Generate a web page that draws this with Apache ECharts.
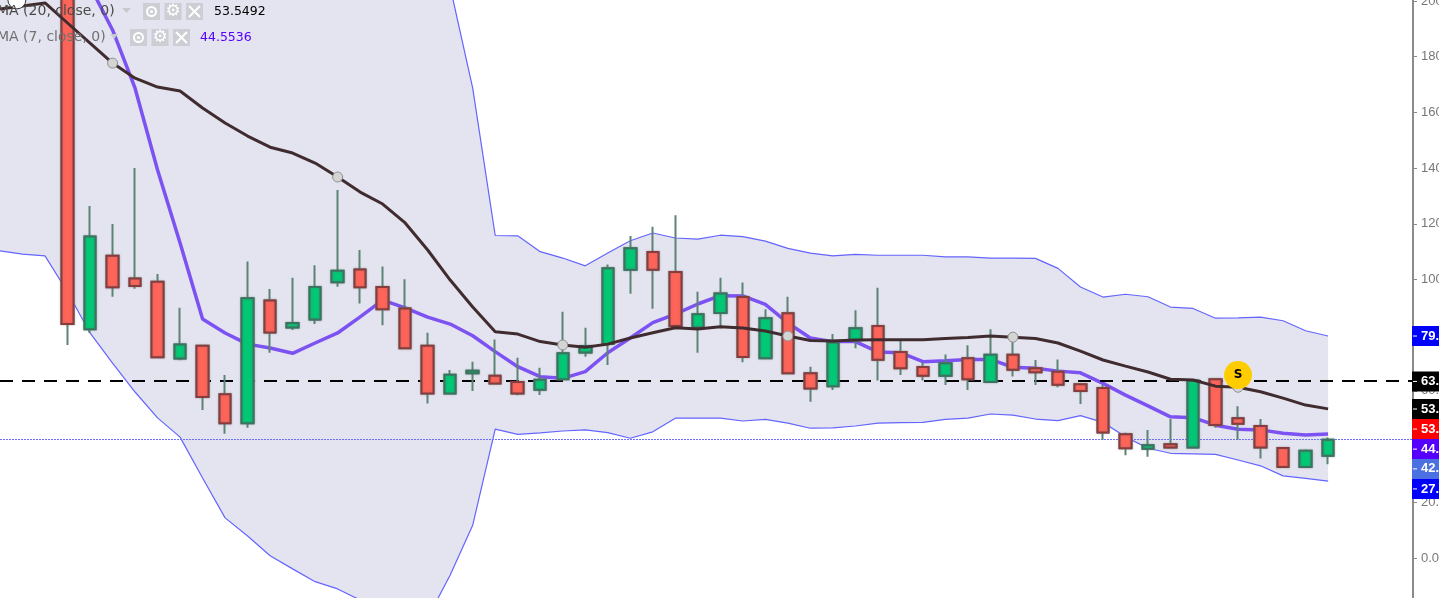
<!DOCTYPE html>
<html><head><meta charset="utf-8">
<style>html,body{margin:0;padding:0;background:#fff;overflow:hidden}#c{width:1439px;height:598px}</style>
<script src="https://cdn.jsdelivr.net/npm/echarts@6/dist/echarts.min.js"></script>
</head><body><div id="c"></div>
<script>
// Candle values (first candle sits at bar index 3)
const candleStart = 3;
const opens  = [215,82.1,108.5,100.4,99.2,71.6,76.2,58.8,48.4,92.5,82.8,85.6,99.0,103.6,97.3,89.6,76.2,59.1,66.3,65.4,63.2,60.4,64.2,73.8,76.8,103.5,109.9,102.7,82.8,88.0,93.7,71.7,87.9,66.3,61.7,78.2,83.3,74.0,68.6,65.4,71.7,63.2,73.0,68.1,66.9,62.4,61.0,44.4,39.2,40.8,39.7,64.2,50.2,47.4,39.5,32.7,36.7];
const closes = [84.0,115.4,97.2,97.7,72.1,76.7,57.8,48.4,93.3,81.0,84.4,97.3,103.1,97.2,89.3,75.3,59.1,65.8,67.2,62.7,59.1,64.0,73.5,76.1,104.0,111.2,103.5,83.3,87.5,95.0,72.2,86.1,66.3,60.9,77.4,82.5,71.2,68.1,65.4,69.9,64.2,73.0,67.6,66.7,62.2,60.0,45.1,39.4,40.5,39.7,63.7,47.8,48.2,39.7,32.7,38.5,42.5];
const lows   = [76.5,80.8,93.8,96.7,71.9,71.0,53.1,44.6,46.8,73.7,81.9,84.0,97.4,91.4,83.6,75.3,55.5,59.1,60.0,62.7,58.4,58.5,64.2,72.3,69.3,94.9,89.5,82.6,73.7,82.5,70.3,71.7,66.3,56.1,60.3,75.3,63.7,65.7,63.7,62.1,60.3,63.2,65.2,62.1,61.3,55.3,42.4,36.9,36.4,39.7,39.7,46.8,42.4,35.7,32.7,32.7,33.7];
const highs  = [225,126.4,119.9,140.0,102.0,89.9,76.2,65.7,106.5,96.6,100.6,105.1,132.1,110.6,104.7,100.1,80.9,67.5,70.5,78.5,71.9,68.3,88.4,82.7,105.4,115.6,118.9,123.1,95.6,100.6,98.9,89.3,93.8,68.7,80.4,89.0,97.0,77.9,70.1,73.1,76.4,82.1,78.3,71.1,71.3,62.4,62.1,45.0,46.0,49.9,64.2,64.2,54.5,49.9,39.5,39.0,43.3];

// Indicator series, one value per bar index from 0
const sma20 = [197.1,198.2,199.3,192.1,184.9,177.7,172.3,169.1,167.7,161.6,156.2,151.5,147.5,145.4,141.8,136.8,131.4,127.1,120.3,110.6,99.8,90.1,81.2,80.4,77.7,76.5,75.7,76.8,79.0,80.9,82.7,82.2,83.0,82.6,81.5,79.7,78.1,77.9,78.3,78.4,78.4,78.4,78.8,79.2,79.7,79.3,78.8,77.2,74.3,71.1,68.9,66.8,64.2,63.9,61.7,61.3,59.7,57.4,54.9,53.55];
const sma7Start = 4;
const sma7 = [205.3,189.6,168.7,139.3,113.1,85.8,80.8,76.8,75.4,73.5,77.2,80.8,86.6,92.6,89.8,86.5,84.0,79.8,74.1,68.7,65.1,64.5,66.9,73.7,79.0,84.5,87.6,91.2,94.2,94.1,91.1,84.4,79.0,77.7,77.7,74.0,73.7,70.5,70.8,71.3,71.3,68.5,68.1,67.1,66.5,62.7,58.5,54.6,50.7,50.4,47.7,46.2,46.0,44.8,44.2,44.55];
const upperBand = [262,262,262,260,258,256,254,252,250,249,248,247,246,245,244,243,242,241,240,235,205.0,168.7,115.8,115.7,110.0,107.7,104.9,109.5,113.9,116.7,114.9,114.5,115.9,115.4,113.8,111.2,109.5,108.5,109.0,108.7,108.7,108.7,108.1,108.1,107.7,107.7,107.6,104.0,97.3,93.7,94.7,93.8,90.1,89.6,86.1,86.2,86.5,85.2,81.6,79.7];
const lowerBand = [110.3,109.1,108.5,95.5,80.8,70.0,59.6,50.3,43.4,28.7,14.4,7.9,0.8,-3.9,-8.5,-11.1,-15.1,-19.4,-22,-21.5,-6.1,11.8,46.3,44.4,44.9,45.6,46.0,45.0,43.0,45.3,50.2,50.2,50.2,49.2,49.8,48.4,46.6,46.7,47.4,48.4,48.6,48.7,49.8,50.2,51.7,51.3,49.9,49.3,51.1,48.7,43.5,39.4,37.6,37.4,37.2,35.2,33.1,29.5,28.6,27.6];

// Event markers
const ringIdx = [5,15,25,35,45,55];
const sellIdx = 55, sellLevel = 65.7;
const startIdx = 0.75, startLevel = 200.4;

// Horizontal levels
const dashedLevel = 63.6;
const dottedLevel = 42.55;

// Price tags on the axis
const tagTexts  = ['79.65','63.60','53.55','53.60','44.55','42.50','27.60'];
const tagLevels = [79.7,63.4,53.5,46.3,39.1,32.0,24.8];
const tagFills  = ['#0000ff','#000000','#000000','#ff0000','#5500ff','#4a70e2','#0000ff'];

// Legend
const legendRows = ['MA (20, close, 0)','MA (7, close, 0)'];
const legendVals = ['53.5492','44.5536'];

const bars = opens.map((o,i)=>i+candleStart);
const wickData = opens.map((o,i)=>[bars[i],o,closes[i],lows[i],highs[i]]);
const bodyData = opens.map((o,i)=>[bars[i],o,closes[i],Math.min(o,closes[i]),Math.max(o,closes[i])]);
const sma20Data = sma20.map((v,i)=>[i,v]);
const sma7Data = sma7.map((v,i)=>[i+sma7Start,v]);
const upperData = upperBand.map((v,i)=>[i,v]);
const lowerData = lowerBand.map((v,i)=>[i,v]);

const chart = echarts.init(document.getElementById('c'),null,{renderer:'canvas'});
const UI = 'DejaVu Sans';
const AX = 'Liberation Sans';
function iconSet(x0,y0,gap){
  const bg='#cdcdd4', out=[];
  [0,1,2].forEach(k=>out.push({type:'rect',z:100,shape:{x:x0+k*gap,y:y0,width:17,height:17},style:{fill:bg}}));
  const cy=y0+8.5;
  out.push({type:'circle',z:101,shape:{cx:x0+8.5,cy:cy,r:4.5},style:{fill:'none',stroke:'#fff',lineWidth:2}});
  out.push({type:'circle',z:101,shape:{cx:x0+8.5,cy:cy,r:1.6},style:{fill:'#fff'}});
  out.push({type:'text',z:101,style:{x:x0+gap+8.5,y:cy+0.5,text:'\u2699',fill:'#fff',font:'bold 17px "DejaVu Sans"',align:'center',verticalAlign:'middle'}});
  const cx=x0+2*gap+8.5;
  out.push({type:'line',z:101,shape:{x1:cx-5.5,y1:cy-5.5,x2:cx+5.5,y2:cy+5.5},style:{stroke:'#fff',lineWidth:2}});
  out.push({type:'line',z:101,shape:{x1:cx+5.5,y1:cy-5.5,x2:cx-5.5,y2:cy+5.5},style:{stroke:'#fff',lineWidth:2}});
  return out;
}
const graphics = [
  {type:'text',z:100,style:{x:-3,y:11.5,text:legendRows[0],fill:'#4a4a4a',font:'14px "'+UI+'"',verticalAlign:'middle'}},
  {type:'text',z:100,style:{x:-3,y:37,text:legendRows[1],fill:'#707070',font:'14px "'+UI+'"',verticalAlign:'middle'}},
  {type:'polygon',z:100,shape:{points:[[122,8],[131,8],[126.5,13]]},style:{fill:'#c8c8cf'}},
  {type:'polygon',z:100,shape:{points:[[110,34],[118,34],[114,39]]},style:{fill:'#c8c8cf'}},
  {type:'text',z:100,style:{x:214,y:12,text:legendVals[0],fill:'#000',font:'12.5px "'+UI+'"',verticalAlign:'middle'}},
  {type:'text',z:100,style:{x:200,y:37.5,text:legendVals[1],fill:'#5500ff',font:'12.5px "'+UI+'"',verticalAlign:'middle'}},
  ...iconSet(143,3,21.5),
  ...iconSet(130,29,21.5)
];

chart.setOption({
  animation:false,
  backgroundColor:'#fff',
  graphic:graphics,
  grid:{left:0,top:-54.7,width:1413,height:668.4,containLabel:false,outerBoundsMode:'none'},
  xAxis:{type:'value',min:0,max:1413/22.51,show:false},
  yAxis:{type:'value',position:'right',min:-20,max:220,interval:20,scale:false,
    splitLine:{show:false},
    axisLine:{show:true,onZero:false,lineStyle:{color:'#8a8a8a',width:2}},
    axisTick:{show:true,length:4,lineStyle:{color:'#8a8a8a',width:1}},
    axisLabel:{show:true,margin:8,color:'#777',fontFamily:AX,fontSize:13,formatter:v=>v.toFixed(1),showMinLabel:true,showMaxLabel:true,hideOverlap:false}
  },
  series:[
    {type:'custom',z:1,silent:true,coordinateSystem:'cartesian2d',data:[[0,0]],encode:{x:0,y:1},
      renderItem:(p,api)=>{
        const pts=[];
        upperBand.forEach((v,i)=>pts.push(api.coord([i,v])));
        for(let i=lowerBand.length-1;i>=0;i--)pts.push(api.coord([i,lowerBand[i]]));
        return {type:'polygon',shape:{points:pts},style:{fill:'#e4e4f0'},silent:true};
      }},
    {type:'line',name:'Upper',z:2,data:upperData,symbol:'none',lineStyle:{color:'#6464ff',width:1.2},silent:true},
    {type:'line',name:'Lower',z:2,data:lowerData,symbol:'none',lineStyle:{color:'#6464ff',width:1.2},silent:true},
    {type:'line',name:'Dotted level',z:3,data:[],symbol:'none',silent:true,
      markLine:{silent:true,symbol:'none',label:{show:false},animation:false,
        lineStyle:{color:'#6f6fff',width:1,type:[2,1],opacity:1},
        data:[{yAxis:dottedLevel}]}},
    {type:'line',name:'Dashed level',z:3,data:[],symbol:'none',silent:true,
      markLine:{silent:true,symbol:'none',label:{show:false},animation:false,
        lineStyle:{color:'#000',width:2,type:[13,9],opacity:1},
        data:[{yAxis:dashedLevel}]}},
    {type:'line',name:'SMA 7',z:4,data:sma7Data,symbol:'none',lineStyle:{color:'#7c52f2',width:3.5},silent:true},
    {type:'candlestick',name:'Wicks',z:5,data:wickData,barWidth:12,silent:true,
      itemStyle:{color:'#5b8474',color0:'#5b8474',borderColor:'#5b8474',borderColor0:'#5b8474',borderWidth:2}},
    {type:'candlestick',name:'Bodies',z:6,data:bodyData,barWidth:12,silent:true,
      itemStyle:{color:'#00c875',color0:'#ff6459',borderColor:'#37755f',borderColor0:'#8a3c3c',borderWidth:2,shadowBlur:2,shadowColor:'rgba(110,110,120,0.5)'}},
    {type:'line',name:'SMA 20',z:7,data:sma20Data,symbol:'none',lineStyle:{color:'#402c2f',width:3},silent:true},
    {type:'scatter',name:'Rings',z:8,silent:true,symbol:'circle',symbolSize:10,data:ringIdx.map(i=>[i,sma20[i]]),
      itemStyle:{color:'#d4d4d4',borderColor:'#8f8f8f',borderWidth:1,opacity:1}},
    {type:'scatter',name:'Start',z:8,silent:true,symbol:'circle',symbolSize:18,data:[[startIdx,startLevel]],
      itemStyle:{color:'#fff',borderColor:'#333',borderWidth:1,opacity:1}},
    {type:'scatter',name:'Sell',z:9,silent:true,symbol:'circle',symbolSize:28,data:[[sellIdx,sellLevel]],
      itemStyle:{color:'#ffcc00',opacity:1},
      label:{show:true,position:'inside',formatter:'S',color:'#000',fontFamily:UI,fontWeight:'bold',fontSize:12}},
    {type:'custom',name:'Tags',z:20,silent:true,coordinateSystem:'cartesian2d',data:tagLevels.map((v,i)=>[0,v,i]),encode:{x:0,y:1},
      renderItem:(p,api)=>{
        const i=api.value(2), y=api.coord([0,api.value(1)])[1], x=p.coordSys.x+p.coordSys.width-1;
        return {type:'group',children:[
          {type:'rect',shape:{x:x,y:y-10,width:40,height:20},style:{fill:tagFills[i]}},
          {type:'line',shape:{x1:x+1,y1:y,x2:x+5,y2:y},style:{stroke:'#fff',lineWidth:1}},
          {type:'text',style:{x:x+9,y:y,text:tagTexts[i],fill:'#fff',font:'bold 13px "'+AX+'"',verticalAlign:'middle',textAlign:'left'}}
        ]};
      }}
  ]
});
</script></body></html>
